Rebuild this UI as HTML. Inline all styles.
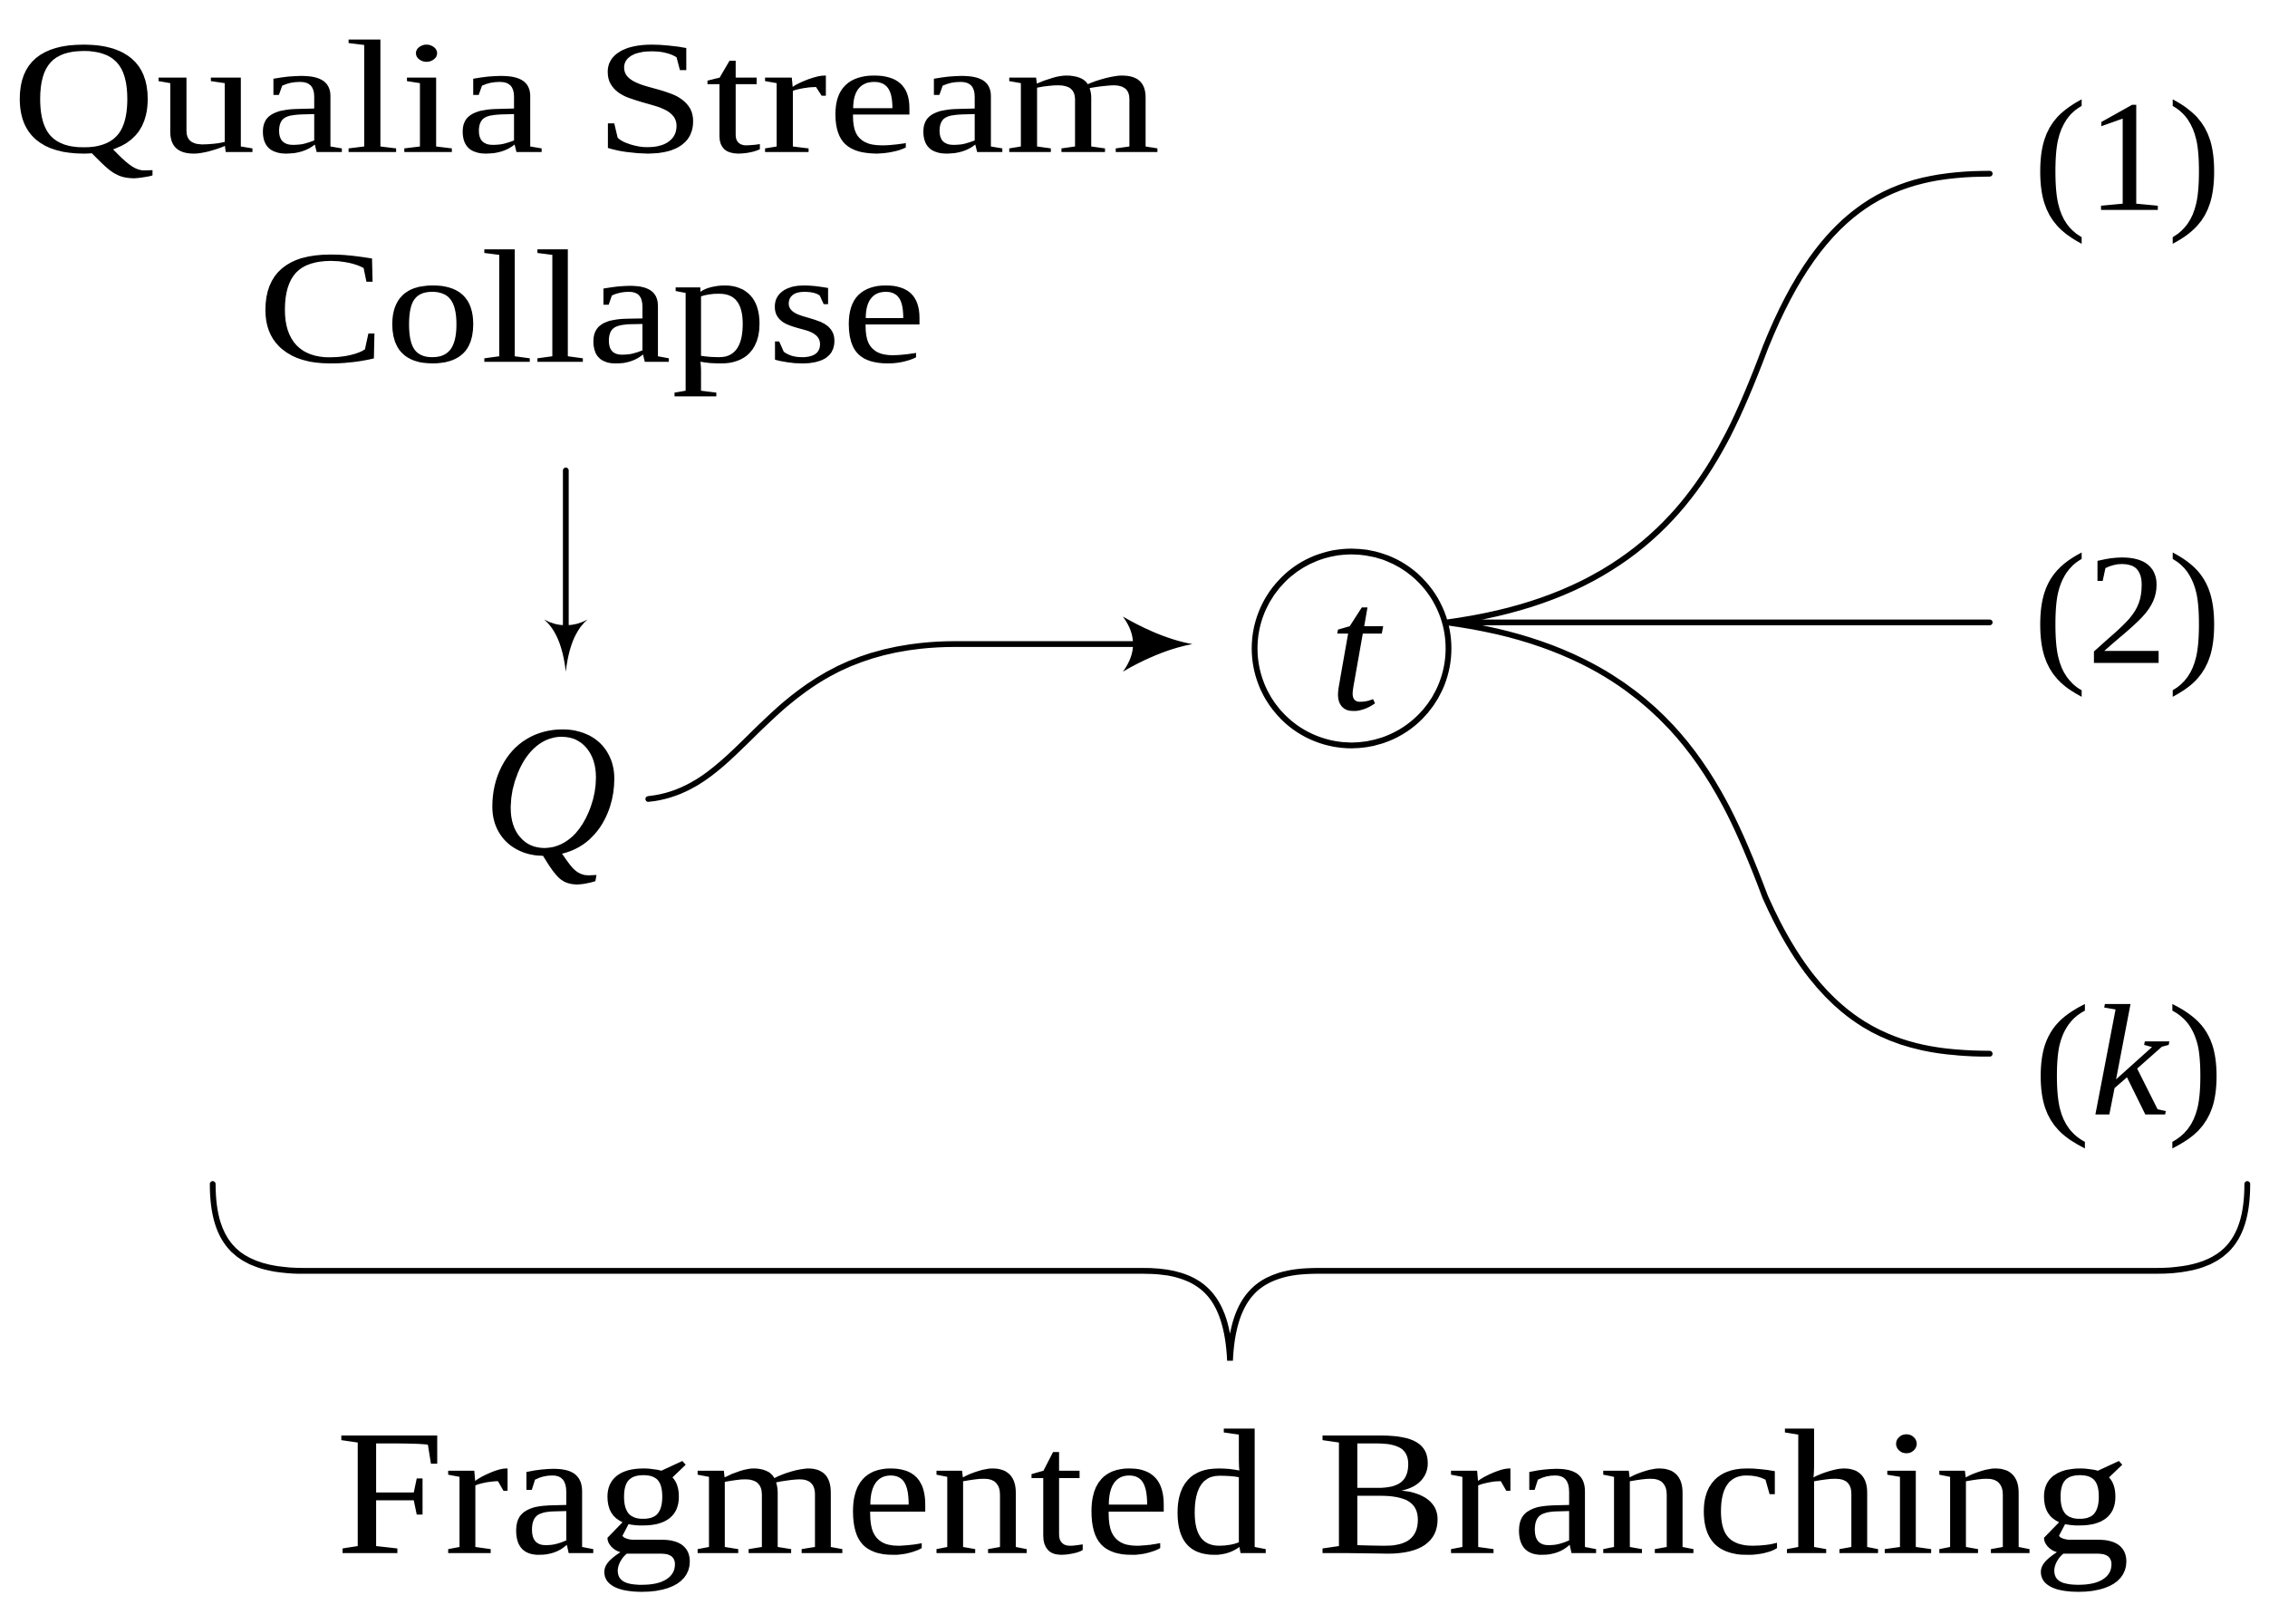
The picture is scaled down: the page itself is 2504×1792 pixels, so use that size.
<!DOCTYPE html>
<html><head><meta charset="utf-8"><style>
html,body{margin:0;padding:0;background:#fff;}
svg{display:block;}
text{font-family:"Liberation Serif",serif;fill:#000;}
</style></head><body>
<svg width="2504" height="1792" viewBox="0 0 1568 1122" preserveAspectRatio="none" xmlns="http://www.w3.org/2000/svg">
<text x="8" y="105" font-size="112" textLength="794" lengthAdjust="spacingAndGlyphs">Qualia Stream</text>
<text x="178" y="250" font-size="112" textLength="462" lengthAdjust="spacingAndGlyphs">Collapse</text>
<g stroke="#000" stroke-width="4" fill="none" stroke-linecap="round">
<line x1="391" y1="325" x2="391" y2="450"/>
<path d="M1000 430 C1150 410 1190 320 1220 240 C1260 140 1310 120 1375 120"/>
<line x1="1000" y1="430" x2="1375" y2="430"/>
<path d="M1000 430 C1150 450 1190 540 1220 620 C1260 710 1310 728 1375 728"/>
<path d="M448 552 C520 545 530 445 660 445 L810 445"/>
<circle cx="934" cy="448" r="67"/>
<path d="M147 818 C147 860 165 878 210 878 L790 878 C830 878 848 895 850 940 C852 895 870 878 910 878 L1490 878 C1535 878 1553 860 1553 818"/>
</g>
<path d="M376 428 Q388 438 391 464 Q394 438 406 428 Q391 436 376 428 Z" fill="#000"/>
<path d="M776 426 Q802 441 824 445 Q802 449 776 464 Q790 445 776 426 Z" fill="#000"/>
<text x="380" y="590" font-size="130" font-style="italic" text-anchor="middle">Q</text>
<text x="936" y="490" font-size="125" font-style="italic" text-anchor="middle">t</text>
<text x="1405" y="145" font-size="110" textLength="130" lengthAdjust="spacingAndGlyphs">(1)</text>
<text x="1405" y="458" font-size="110" textLength="130" lengthAdjust="spacingAndGlyphs">(2)</text>
<text x="1405" y="770" font-size="110" textLength="132" lengthAdjust="spacingAndGlyphs">(<tspan font-style="italic">k</tspan>)</text>
<text x="232" y="1073" font-size="124" textLength="1240" lengthAdjust="spacingAndGlyphs">Fragmented Branching</text>
</svg>
</body></html>
